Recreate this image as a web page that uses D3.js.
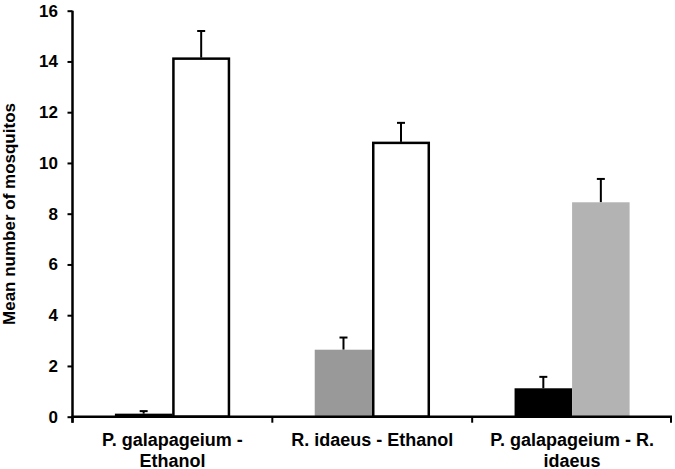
<!DOCTYPE html>
<html><head><meta charset="utf-8">
<script src="https://cdn.jsdelivr.net/npm/d3@7"></script>
<style>body{margin:0;background:#fff}svg{display:block}text{font-family:"Liberation Sans",Arial,sans-serif;font-weight:bold}</style>
</head><body>
<svg id="c" width="675" height="469"></svg>
<script>
const groups = [["P. galapageium -","Ethanol"],["R. idaeus - Ethanol"],["P. galapageium - R.","idaeus"]];
const firstValues = [0.12, 2.64, 1.12];
const firstErrors = [0.1, 0.48, 0.45];
const firstColors = ["#000000", "#999999", "#000000"];
const secondValues = [14.15, 10.83, 8.45];
const secondErrors = [1.05, 0.75, 0.92];
const secondColors = ["#ffffff", "#ffffff", "#b3b3b3"];
const yTicks = [0,2,4,6,8,10,12,14,16];
const yLabel = "Mean number of mosquitos";

(function(){
const svg = d3.select("#c");
const mLeft = 72.5, mRight = 672, mTop = 10.7, mBottom = 416.7;
const x = d3.scaleBand().domain(d3.range(groups.length)).range([mLeft, mRight]).paddingInner(0).paddingOuter(0);
const y = d3.scaleLinear().domain([0,16]).range([mBottom, mTop]);
const inner = d3.scaleBand().domain([0,1]).range([0, x.bandwidth()]).paddingOuter(0.737).paddingInner(0);

const bars = [];
groups.forEach((g,i)=>{
  bars.push({g:i, s:0, v:firstValues[i], e:firstErrors[i], c:firstColors[i]});
  bars.push({g:i, s:1, v:secondValues[i], e:secondErrors[i], c:secondColors[i]});
});

const eb = svg.append("g").attr("stroke","#000").attr("stroke-width",2);
bars.forEach(b=>{
  const cx = x(b.g)+inner(b.s)+inner.bandwidth()/2;
  eb.append("line").attr("x1",cx).attr("x2",cx).attr("y1",y(b.v)).attr("y2",y(b.v+b.e));
  eb.append("line").attr("x1",cx-4).attr("x2",cx+4).attr("y1",y(b.v+b.e)).attr("y2",y(b.v+b.e));
});

svg.append("g").selectAll("rect").data(bars).join("rect")
  .attr("x", d=>x(d.g)+inner(d.s) + (d.c==="#ffffff"?1:0))
  .attr("width", d=>inner.bandwidth() - (d.c==="#ffffff"?2:0))
  .attr("y", d=>y(d.v) + (d.c==="#ffffff"?1:0))
  .attr("height", d=>mBottom - y(d.v) - (d.c==="#ffffff"?1:0))
  .attr("fill", d=>d.c)
  .attr("stroke", d=>d.c==="#ffffff"?"#000":"none")
  .attr("stroke-width",2.5);

const ya = svg.append("g").attr("transform",`translate(${mLeft},0)`)
  .call(d3.axisLeft(y).tickValues(yTicks).tickSize(5).tickPadding(9.5));
ya.select(".domain").attr("stroke","#000").attr("stroke-width",2.5).attr("d",`M0,${mBottom+6}V${mTop}`);
ya.selectAll(".tick line").attr("stroke","#000").attr("stroke-width",2);
ya.selectAll(".tick text").attr("font-size",17).attr("fill","#000")
  .attr("font-family","'Liberation Sans',Arial,sans-serif").attr("font-weight","bold");

svg.append("line").attr("x1",mLeft-1).attr("x2",mRight).attr("y1",mBottom).attr("y2",mBottom)
  .attr("stroke","#000").attr("stroke-width",2.5);
const xa = svg.append("g");
d3.range(groups.length+1).forEach(i=>{
  const xx = i<groups.length ? x(i) : mRight-1;
  xa.append("line").attr("x1",xx).attr("x2",xx).attr("y1",mBottom).attr("y2",mBottom+6)
    .attr("stroke","#000").attr("stroke-width",2);
});
groups.forEach((g,i)=>{
  const t = xa.append("text").attr("text-anchor","middle").attr("font-size",18).attr("fill","#000");
  g.forEach((line,j)=>{
    t.append("tspan").attr("x", x(i)+x.bandwidth()/2).attr("y", 446 + j*20.5).text(line);
  });
});

svg.append("text").attr("transform",`translate(15,214) rotate(-90)`)
  .attr("text-anchor","middle").attr("font-size",17).attr("fill","#000").text(yLabel);
})();
</script>
</body></html>
